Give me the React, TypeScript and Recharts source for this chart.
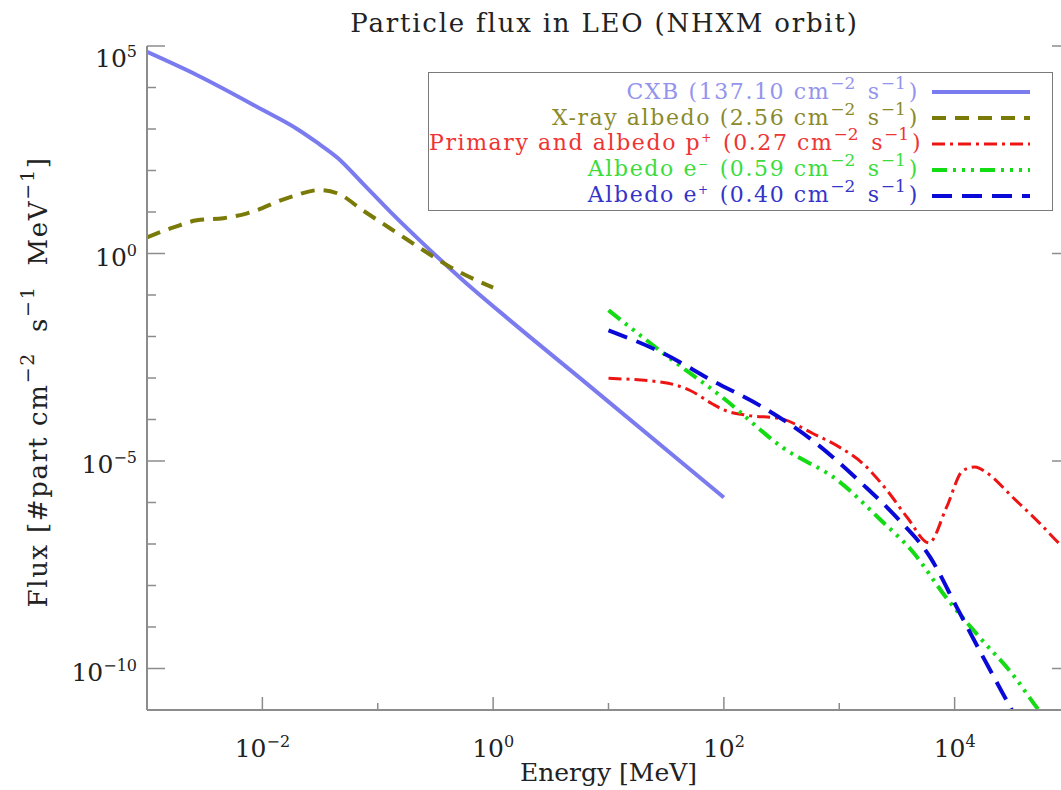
import React from 'react';
import { LineChart, Line, XAxis, YAxis, Legend } from 'recharts';

// energies in MeV, fluxes in #part cm^-2 s^-1 MeV^-1
const cxbEnergy = [1e-3, 2.7e-3, 1e-2, 2e-2, 2.95e-2, 4.5e-2, 7.4e-2, 0.13, 0.245, 0.55, 1.4, 5.6, 100];
const cxbFlux = [7.2e4, 2.0e4, 2.9e3, 1.0e3, 4.8e2, 2.0e2, 49, 9.8, 1.78, 0.224, 0.0245, 1.02e-3, 1.32e-6];

const xrayEnergy = [1e-3, 1.7e-3, 2.7e-3, 4.6e-3, 7.4e-3, 1.74e-2, 3.16e-2, 4.47e-2, 7.4e-2, 0.148, 0.275, 0.427, 1.0];
const xrayFlux = [2.45, 4.27, 6.3, 7.1, 9.3, 22.9, 33.9, 28.2, 11.0, 3.09, 1.0, 0.468, 0.151];

const protonEnergy = [10, 30, 51, 79, 98, 160, 310, 590, 1.02e3, 1.6e3, 2.6e3, 3.9e3, 6.0e3, 8.5e3, 1.18e4, 1.5e4, 1.9e4, 3.2e4, 5.5e4, 8.1e4, 1e5];
const protonFlux = [9.8e-4, 7.8e-4, 5.0e-4, 2.4e-4, 1.74e-4, 1.26e-4, 1.05e-4, 4.6e-5, 2.1e-5, 8.7e-6, 1.95e-6, 4.3e-7, 1.07e-7, 7.6e-7, 5.9e-6, 7.2e-6, 5.2e-6, 1.32e-6, 3.1e-7, 1.02e-7, 6.3e-8];

const electronEnergy = [10, 31.6, 100, 316, 1000, 2240, 4370, 8510, 16600, 31600, 52500, 79400];
const electronFlux = [4.3e-2, 3.5e-3, 3.2e-4, 2.2e-5, 3.2e-6, 4.0e-7, 6.3e-8, 5.0e-9, 5.5e-10, 7.4e-11, 1.07e-11, 2.5e-12];

const positronEnergy = [10, 29.5, 79, 219, 589, 1585, 3160, 6170, 10500, 16600, 31600, 44700];
const positronFlux = [1.41e-2, 4.0e-3, 8.7e-4, 1.95e-4, 3.1e-5, 2.8e-6, 4.3e-7, 4.7e-8, 2.9e-9, 2.6e-10, 9.5e-12, 1.6e-12];

const xTicks = [1e-2, 1e-1, 1, 10, 100, 1e3, 1e4];
const yTicks = [1e-10, 1e-9, 1e-8, 1e-7, 1e-6, 1e-5, 1e-4, 1e-3, 1e-2, 1e-1, 1, 10, 100, 1e3, 1e4, 1e5];

const legendNames = ['CXB', 'X-ray albedo', 'Primary and albedo p', 'Albedo e', 'Albedo e'];
const legendCharge = ['', '', '+', '\u2212', '+'];
const legendTotals = ['137.10', '2.56', '0.27', '0.59', '0.40'];

const seriesStyle = [
  { line: '#7b7bf0', text: '#9494ee', width: 4, dash: undefined },
  { line: '#7a7a08', text: '#8a8a2c', width: 4, dash: '14 9' },
  { line: '#ee1414', text: '#ee3434', width: 3, dash: '13 5 3 5' },
  { line: '#14dc14', text: '#3cdc3c', width: 4, dash: '15 6 3 6 3 6 3 6' },
  { line: '#0a0ad8', text: '#3434c8', width: 4, dash: '20 10' },
];

const zip = (xs: number[], ys: number[]) => xs.map((x, i) => ({ x, y: ys[i] }));
const seriesData = [
  zip(cxbEnergy, cxbFlux),
  zip(xrayEnergy, xrayFlux),
  zip(protonEnergy, protonFlux),
  zip(electronEnergy, electronFlux),
  zip(positronEnergy, positronFlux),
];

const FONT = '"DejaVu Serif", serif';
const AXIS = '#8c8c8c';
const INK = '#222';

const expOf = (v: number) => Math.round(Math.log10(v));
const fmtExp = (e: number) => (e < 0 ? '\u2212' + Math.abs(e) : String(e));

const Pow = ({ x, y, exp, anchor }: any) => (
  <text x={x} y={y} textAnchor={anchor} fontFamily={FONT} fill={INK} fontSize={25}>
    <tspan>10</tspan>
    <tspan dy={-10} fontSize={16}>{fmtExp(exp)}</tspan>
  </text>
);

const BottomTick = (props: any) => {
  const { x, y, payload } = props;
  const e = expOf(payload.value);
  const major = e % 2 === 0;
  return (
    <g>
      <line x1={x} x2={x} y1={y} y2={y - (major ? 13 : 7)} stroke={AXIS} strokeWidth={1.5} />
      {major && <Pow x={x} y={y + 47} exp={e} anchor="middle" />}
    </g>
  );
};

const TopTick = (props: any) => {
  const { x, y, payload } = props;
  const major = expOf(payload.value) % 2 === 0;
  return <line x1={x} x2={x} y1={y} y2={y + (major ? 13 : 7)} stroke={AXIS} strokeWidth={1.5} />;
};

const LeftTick = (props: any) => {
  const { x, y, payload } = props;
  const e = expOf(payload.value);
  const major = e % 5 === 0;
  return (
    <g>
      <line x1={x} x2={x + (major ? 18 : 9)} y1={y} y2={y} stroke={AXIS} strokeWidth={1.5} />
      {major && <Pow x={x - 10} y={y + (e === 5 ? 21 : 12)} exp={e} anchor="end" />}
    </g>
  );
};

const RightTick = (props: any) => {
  const { x, y, payload } = props;
  const major = expOf(payload.value) % 5 === 0;
  return <line x1={x} x2={x - (major ? 18 : 9)} y1={y} y2={y} stroke={AXIS} strokeWidth={1.5} />;
};

const XLabel = (props: any) => {
  const { viewBox } = props;
  return (
    <text x={viewBox.x + viewBox.width / 2} y={viewBox.y + 71} textAnchor="middle" fontFamily={FONT} fontSize={25} fill={INK}>
      Energy [MeV]
    </text>
  );
};

const YLabel = (props: any) => {
  const { viewBox } = props;
  const cx = 38;
  const cy = viewBox.y + viewBox.height / 2 + 4;
  return (
    <text x={cx} y={cy} transform={`rotate(-90 ${cx} ${cy})`} textAnchor="middle" dominantBaseline="central" fontFamily={FONT} fontSize={26} fill={INK} letterSpacing={1.7} style={{ whiteSpace: 'pre' }}>
      <tspan>Flux [#part cm</tspan>
      <tspan dy={-11} fontSize={19}>{'\u22122'}</tspan>
      <tspan dy={11}>{'  s'}</tspan>
      <tspan dy={-11} fontSize={19}>{'\u22121'}</tspan>
      <tspan dy={11}>{'  MeV'}</tspan>
      <tspan dy={-11} fontSize={19}>{'\u22121'}</tspan>
      <tspan dy={11}>]</tspan>
    </text>
  );
};

const Sup = ({ children, size = 17, lift = 10, after = 0 }: any) => (
  <span style={{ fontSize: size, position: 'relative', top: -lift, letterSpacing: 0, marginRight: after }}>{children}</span>
);

const LegendBox = () => (
  <div style={{ width: 625, height: 139, border: '1.5px solid #7a7a7a', background: '#fff', fontFamily: FONT, fontSize: 22, paddingTop: 6, boxSizing: 'border-box' }}>
    {legendNames.map((name, i) => (
      <div key={i} style={{ height: 26, display: 'flex', alignItems: 'center', position: 'relative' }}>
        <div style={{ width: 490, flexShrink: 0, textAlign: 'right', whiteSpace: 'pre', color: seriesStyle[i].text, lineHeight: '26px', letterSpacing: 1.6 }}>
          {name}
          {legendCharge[i] && <Sup size={12} lift={8} after={3}>{legendCharge[i]}</Sup>}
          {` (${legendTotals[i]} cm`}
          <Sup after={4}>{'\u22122'}</Sup>
          {' s'}
          <Sup after={3}>{'\u22121'}</Sup>
          {')'}
        </div>
        <svg width={100} height={10} style={{ position: 'absolute', left: 503, top: 8 }}>
          <line x1={0} x2={98} y1={5} y2={5} stroke={seriesStyle[i].line} strokeWidth={seriesStyle[i].width} strokeDasharray={seriesStyle[i].dash} />
        </svg>
      </div>
    ))}
  </div>
);

export default function App() {
  return (
    <div style={{ position: 'absolute', left: 0, top: 0, width: 1061, height: 790, overflow: 'hidden', background: '#fff' }}>
      <div style={{ position: 'absolute', left: 147, width: 915, top: 8, textAlign: 'center', fontFamily: FONT, fontSize: 26, color: INK, letterSpacing: 1.8 }}>
        Particle flux in LEO (NHXM orbit)
      </div>
      <LineChart width={1090} height={790} margin={{ top: 46, right: 0, bottom: 0, left: 0 }}>
        <XAxis xAxisId="b" type="number" dataKey="x" scale="log" domain={[1e-3, 1e5]} allowDataOverflow orientation="bottom" height={80}
          ticks={xTicks} tick={<BottomTick />} tickSize={0} tickMargin={0} interval={0} axisLine={{ stroke: AXIS, strokeWidth: 2 }} tickLine={false}
          label={<XLabel />} />
        <XAxis xAxisId="t" type="number" dataKey="x" scale="log" domain={[1e-3, 1e5]} allowDataOverflow orientation="top" height={0}
          ticks={xTicks} tick={<TopTick />} tickSize={0} tickMargin={0} interval={0} axisLine={{ stroke: AXIS, strokeWidth: 2 }} tickLine={false} />
        <YAxis yAxisId="l" type="number" dataKey="y" scale="log" domain={[1e-11, 1e5]} allowDataOverflow orientation="left" width={147}
          ticks={yTicks} tick={<LeftTick />} tickSize={0} tickMargin={0} interval={0} axisLine={{ stroke: AXIS, strokeWidth: 2 }} tickLine={false}
          label={<YLabel />} />
        <YAxis yAxisId="r" type="number" dataKey="y" scale="log" domain={[1e-11, 1e5]} allowDataOverflow orientation="right" width={20}
          ticks={yTicks} tick={<RightTick />} tickSize={0} tickMargin={0} interval={0} axisLine={{ stroke: AXIS, strokeWidth: 2 }} tickLine={false} />
        <Legend verticalAlign="middle" align="center" layout="horizontal" content={<LegendBox />}
          wrapperStyle={{ position: 'absolute', left: 428, top: 72, width: 625, height: 139 }} />
        {seriesData.map((d, i) => (
          <Line key={i} xAxisId="b" yAxisId="l" data={d} dataKey="y" type="monotone" stroke={seriesStyle[i].line}
            strokeWidth={seriesStyle[i].width} strokeDasharray={seriesStyle[i].dash} dot={false} isAnimationActive={false} />
        ))}
      </LineChart>
    </div>
  );
}
